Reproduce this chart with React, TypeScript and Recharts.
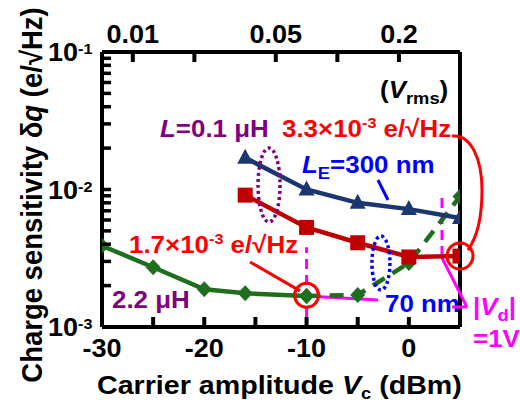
import React from 'react';
import { ComposedChart, Line, XAxis, YAxis, ReferenceLine, ReferenceDot } from 'recharts';

const FONT = '"Liberation Sans", Arial, Helvetica, sans-serif';
const SX = 1.08;

const NAVY = '#1c3770';
const DRED = '#c00000';
const GREEN = '#1e6e1e';
const RED = '#ff0000';
const PURPLE = '#800080';
const BLUE = '#0000ff';
const MAGENTA = '#ff00ff';

// ---- data (dBm, e/sqrt(Hz)) ----
const greenSolidX = [-30, -25, -20, -16, -10];
const greenSolidY = [3.9e-3, 2.72e-3, 1.88e-3, 1.76e-3, 1.68e-3];
const greenDashX = [-10, -5, 0, 5];
const greenDashY = [1.68e-3, 1.71e-3, 2.92e-3, 8.9e-3];
const redX = [-16, -10, -5, 0, 5];
const redY = [9.1e-3, 5.3e-3, 4.1e-3, 3.23e-3, 3.28e-3];
const blueX = [-16, -10, -5, 0, 5];
const blueY = [1.7e-2, 1.0e-2, 8.0e-3, 7.2e-3, 6.2e-3];

// ---- ticks ----
const bottomTicks = [-30, -25, -20, -15, -10, -5, 0];
const bottomLabels = ['-30', '', '-20', '', '-10', '', '0'];
const topTickVrms = [0.01, 0.02, 0.05, 0.1, 0.2];
const topTickLabels = ['0.01', '', '0.05', '', '0.2'];
const leftTicks = [
  0.001, 0.002, 0.003, 0.004, 0.005, 0.006, 0.007, 0.008, 0.009,
  0.01, 0.02, 0.03, 0.04, 0.05, 0.06, 0.07, 0.08, 0.09, 0.1,
];
const leftMajorValues = [0.001, 0.01, 0.1];
const leftMajorLabels = ['-3', '-2', '-1'];
const Y_MAX = 0.1;

// Vrms (50 ohm) -> dBm, to place the top axis ticks on the dBm scale
const vrmsToDbm = (v: number) => 10 * Math.log10((v * v) / 50 / 1e-3);
const topTicks = topTickVrms.map(vrmsToDbm);

const toRows = (xs: number[], ys: number[]) => xs.map((x, i) => ({ x, y: ys[i] }));
const greenSolid = toRows(greenSolidX, greenSolidY);
const greenDash = toRows(greenDashX, greenDashY);
const red = toRows(redX, redY);
const blue = toRows(blueX, blueY);

const Square = (p: any) =>
  p.cx == null ? null : (
    <rect key={`s${p.index}`} x={p.cx - 7.5} y={p.cy - 7.5} width={15} height={15} fill={DRED} />
  );
const Tri = (p: any) =>
  p.cx == null ? null : (
    <polygon
      key={`t${p.index}`}
      points={`${p.cx},${p.cy - 9} ${p.cx + 8},${p.cy + 6} ${p.cx - 8},${p.cy + 6}`}
      fill={NAVY}
    />
  );
const Diamond = (p: any) =>
  p.cx == null ? null : (
    <polygon
      key={`d${p.index}`}
      points={`${p.cx},${p.cy - 8} ${p.cx + 7.5},${p.cy} ${p.cx},${p.cy + 8} ${p.cx - 7.5},${p.cy}`}
      fill={GREEN}
    />
  );

const BottomTick = (p: any) => {
  const { x, y, index } = p;
  const label = bottomLabels[index];
  return (
    <g>
      <rect x={x - 2} y={y - 10} width={4} height={10} fill="#000" />
      {label ? (
        <g transform={`translate(${x},${y + 30}) scale(${SX},1)`}>
          <text textAnchor="middle" fontSize={25} fontWeight="bold" fontFamily={FONT} fill="#000">
            {label}
          </text>
        </g>
      ) : null}
    </g>
  );
};

const LeftTick = (p: any) => {
  const { x, y, payload } = p;
  const mi = leftMajorValues.findIndex((v) => Math.abs(v - payload.value) < 1e-9);
  return (
    <g>
      <rect x={x} y={y - 1.75} width={9} height={3.5} fill="#000" />
      {mi >= 0 ? (
        <g transform={`translate(${x - 9.5},${y + 9}) scale(${SX},1)`}>
          <text textAnchor="end" fontSize={25} fontWeight="bold" fontFamily={FONT} fill="#000">
            10
            <tspan dy={-7} fontSize={15}>
              {leftMajorLabels[mi]}
            </tspan>
          </text>
        </g>
      ) : null}
    </g>
  );
};

// top (Vrms) axis: tick + label at each Vrms position on the top frame edge
const makeTopTick = (label: string) => (p: any) =>
  (
    <g>
      <rect x={p.cx - 2} y={p.cy} width={4} height={10} fill="#000" />
      {label ? (
        <g transform={`translate(${p.cx},${p.cy - 9}) scale(${SX},1)`}>
          <text textAnchor="middle" fontSize={25} fontWeight="bold" fontFamily={FONT} fill="#000">
            {label}
          </text>
        </g>
      ) : null}
    </g>
  );

const T = ({ x, y, fill = '#000', size = 24, anchor = 'start', children }: any) => (
  <g transform={`translate(${x},${y}) scale(${SX},1)`}>
    <text textAnchor={anchor} fill={fill} fontSize={size} fontWeight="bold" fontFamily={FONT}>
      {children}
    </text>
  </g>
);

const Texts = () => (
  <svg width={520} height={402} style={{ position: 'absolute', left: 0, top: 0 }}>
    <g transform={`translate(42,195) rotate(-90) scale(1,${SX})`}>
      <text textAnchor="middle" fontSize={27.5} fontWeight="bold" fontFamily={FONT} fill="#000">
        Charge sensitivity δ<tspan fontStyle="italic">q</tspan> (e/√Hz)
      </text>
    </g>
    <T x={97} y={394} size={26.5}>
      Carrier amplitude <tspan fontStyle="italic">V</tspan>
      <tspan dy={5} fontSize={17}>c</tspan>
      <tspan dy={-5}> (dBm)</tspan>
    </T>
    <T x={380} y={98}>
      (<tspan fontStyle="italic">V</tspan>
      <tspan dy={6} fontSize={17}>rms</tspan>
      <tspan dy={-6}>)</tspan>
    </T>
    <T x={160} y={137} fill={PURPLE}>
      <tspan fontStyle="italic">L</tspan>=0.1 μH
    </T>
    <T x={282} y={137} fill={RED}>
      3.3×10<tspan dy={-9} fontSize={15}>-3</tspan>
      <tspan dy={9}> e/√Hz</tspan>
    </T>
    <T x={302} y={173} fill={BLUE}>
      <tspan fontStyle="italic">L</tspan>
      <tspan dy={6} fontSize={17}>E</tspan>
      <tspan dy={-6}>=300 nm</tspan>
    </T>
    <T x={129} y={253} fill={RED}>
      1.7×10<tspan dy={-9} fontSize={15}>-3</tspan>
      <tspan dy={9}> e/√Hz</tspan>
    </T>
    <T x={112} y={308} fill={PURPLE}>
      2.2 μH
    </T>
    <T x={385} y={312} fill={BLUE}>
      70 nm
    </T>
    <T x={473} y={315} fill={MAGENTA}>
      |<tspan fontStyle="italic">V</tspan>
      <tspan dy={6} fontSize={17}>d</tspan>
      <tspan dy={-6}>|</tspan>
    </T>
    <T x={473} y={347} fill={MAGENTA}>
      =1V
    </T>
  </svg>
);

const Ell = (rx: number, ry: number, color: string) => (p: any) =>
  (
    <ellipse
      cx={p.cx}
      cy={p.cy}
      rx={rx}
      ry={ry}
      fill="none"
      stroke={color}
      strokeWidth={3.5}
      strokeDasharray="3 3"
    />
  );

const BigCircle = (p: any) => (
  <g>
    <circle cx={p.cx} cy={p.cy} r={13} fill="none" stroke={RED} strokeWidth={3} />
    <path
      d={`M ${p.cx - 8} ${p.cy - 120} C ${p.cx + 12} ${p.cy - 122} ${p.cx + 22} ${p.cy - 95} ${p.cx + 22} ${p.cy - 66} C ${p.cx + 22} ${p.cy - 40} ${p.cx + 18} ${p.cy - 20} ${p.cx + 8} ${p.cy - 6}`}
      fill="none"
      stroke={RED}
      strokeWidth={3}
    />
  </g>
);

export default function App() {
  return (
    <div style={{ position: 'absolute', left: 0, top: 0, width: 520, height: 402, background: '#fff' }}>
      <Texts />
      <div style={{ position: 'absolute', left: 0, top: 0, width: 520, height: 402 }}>
        <ComposedChart width={520} height={402} margin={{ top: 52, right: 60, bottom: 0, left: 0 }}>
          <XAxis
            dataKey="x"
            type="number"
            domain={[-30, 5]}
            allowDataOverflow
            ticks={bottomTicks}
            interval={0}
            height={75}
            tickSize={0}
            tickMargin={0}
            tickLine={false}
            axisLine={{ stroke: '#000', strokeWidth: 4 }}
            tick={<BottomTick />}
          />
          <YAxis
            type="number"
            scale="log"
            domain={[0.001, 0.1]}
            allowDataOverflow
            ticks={leftTicks}
            interval={0}
            width={102}
            tickSize={0}
            tickMargin={0}
            tickLine={false}
            axisLine={{ stroke: '#000', strokeWidth: 4 }}
            tick={<LeftTick />}
          />
          <ReferenceLine x={5} stroke="#000" strokeWidth={4} ifOverflow="visible" />
          <ReferenceLine y={Y_MAX} stroke="#000" strokeWidth={4} ifOverflow="visible" />

          <ReferenceLine
            segment={[{ x: -10, y: 0.00118 }, { x: -10, y: 0.0038 }]}
            stroke={MAGENTA}
            strokeWidth={3}
            strokeDasharray="10 6"
            ifOverflow="visible"
          />
          <ReferenceLine
            segment={[{ x: 3.24, y: 0.00867 }, { x: 3.24, y: 0.00318 }]}
            stroke={MAGENTA}
            strokeWidth={3}
            strokeDasharray="10 6"
            ifOverflow="visible"
          />
          <ReferenceLine
            segment={[{ x: 3.24, y: 0.00318 }, { x: 5.68, y: 0.001398 }]}
            stroke={MAGENTA}
            strokeWidth={3}
            ifOverflow="visible"
          />
          <ReferenceLine
            segment={[{ x: 5.68, y: 0.001398 }, { x: 4.22, y: 0.001398 }]}
            stroke={MAGENTA}
            strokeWidth={3}
            ifOverflow="visible"
          />
          <ReferenceLine
            segment={[{ x: -8.69, y: 0.00166 }, { x: -3.02, y: 0.00157 }]}
            stroke={MAGENTA}
            strokeWidth={3}
            ifOverflow="visible"
          />

          <Line
            data={greenSolid}
            dataKey="y"
            stroke={GREEN}
            strokeWidth={4.5}
            dot={Diamond}
            activeDot={false}
            isAnimationActive={false}
          />
          <Line
            data={greenDash}
            dataKey="y"
            stroke={GREEN}
            strokeWidth={4.5}
            strokeDasharray="14 9"
            dot={Diamond}
            activeDot={false}
            isAnimationActive={false}
          />
          <Line
            data={blue}
            dataKey="y"
            stroke={NAVY}
            strokeWidth={4.5}
            dot={Tri}
            activeDot={false}
            isAnimationActive={false}
          />
          <Line
            data={red}
            dataKey="y"
            stroke={DRED}
            strokeWidth={4.5}
            dot={Square}
            activeDot={false}
            isAnimationActive={false}
          />

          <ReferenceLine
            segment={[{ x: -15.53, y: 0.00297 }, { x: -10.64, y: 0.00183 }]}
            stroke={RED}
            strokeWidth={3}
            ifOverflow="visible"
          />
          <ReferenceLine
            segment={[{ x: -3.02, y: 0.01172 }, { x: -2.04, y: 0.00839 }]}
            stroke={BLUE}
            strokeWidth={3}
            ifOverflow="visible"
          />
          <ReferenceDot x={-10} y={0.0017} r={12} fill="none" stroke={RED} strokeWidth={3} ifOverflow="visible" />
          <ReferenceDot x={5} y={redY[4]} r={13} shape={BigCircle} ifOverflow="visible" />
          <ReferenceDot x={-13.67} y={0.01078} r={11} shape={Ell(11, 37, PURPLE)} ifOverflow="visible" />
          <ReferenceDot x={-2.73} y={0.00292} r={9} shape={Ell(9, 27, BLUE)} ifOverflow="visible" />

          {topTicks.map((t, i) => (
            <ReferenceDot
              key={`ts${i}`}
              x={t}
              y={Y_MAX}
              r={5}
              shape={makeTopTick(topTickLabels[i])}
              ifOverflow="visible"
            />
          ))}
        </ComposedChart>
      </div>
    </div>
  );
}
